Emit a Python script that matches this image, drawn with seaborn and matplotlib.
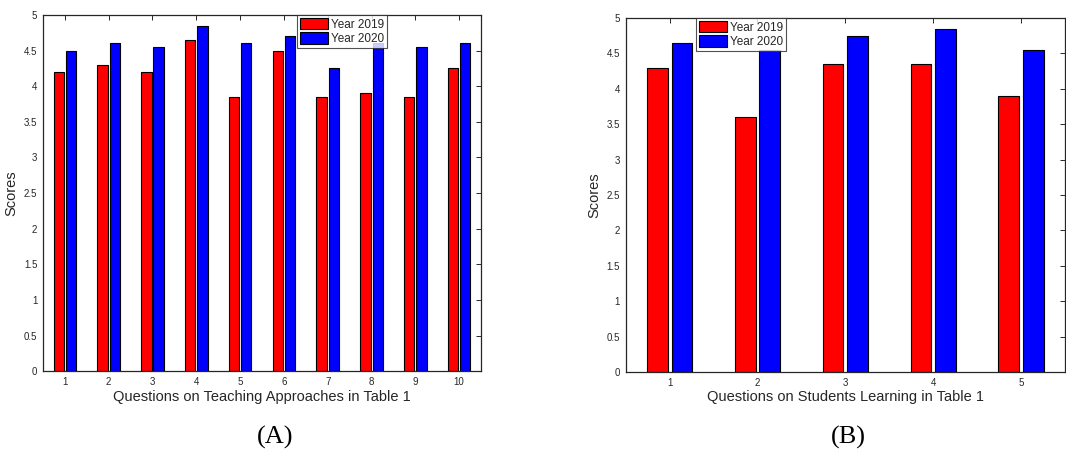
import matplotlib
matplotlib.use("Agg")
import matplotlib.pyplot as plt
import seaborn as sns
import pandas as pd

# Data
years = ["Year 2019", "Year 2020"]

teaching_questions = ["1", "2", "3", "4", "5", "6", "7", "8", "9", "10"]
teaching_2019 = [4.2, 4.3, 4.2, 4.65, 3.85, 4.5, 3.85, 3.9, 3.85, 4.25]
teaching_2020 = [4.5, 4.6, 4.55, 4.85, 4.6, 4.7, 4.25, 4.6, 4.55, 4.6]

learning_questions = ["1", "2", "3", "4", "5"]
learning_2019 = [4.3, 3.6, 4.35, 4.35, 3.9]
learning_2020 = [4.65, 4.55, 4.75, 4.85, 4.55]

y_ticks = [0, 0.5, 1, 1.5, 2, 2.5, 3, 3.5, 4, 4.5, 5]
y_ticklabels = ["0", "0.5", "1", "1.5", "2", "2.5", "3", "3.5", "4", "4.5", "5"]

COLORS = {"Year 2019": "#ff0000", "Year 2020": "#0000ff"}
TEXT_COLOR = "#262626"


def long_table(questions, v2019, v2020):
    rows = []
    for q, a, b in zip(questions, v2019, v2020):
        rows.append({"question": q, "year": years[0], "score": a})
        rows.append({"question": q, "year": years[1], "score": b})
    return pd.DataFrame(rows)


def draw_panel(ax, df, questions, xlabel, legend_x):
    sns.barplot(data=df, x="question", y="score", hue="year", order=questions,
                hue_order=years, palette=COLORS, width=0.56, gap=0.16,
                edgecolor="black", linewidth=0.8, saturation=1, ax=ax,
                errorbar=None)
    ax.set_xlim(-0.5, len(questions) - 0.5)
    ax.set_ylim(0, 5)
    ax.set_yticks(y_ticks)
    ax.set_yticklabels(y_ticklabels)
    ax.set_xlabel(xlabel, fontsize=10.5, color=TEXT_COLOR, labelpad=2)
    ax.set_ylabel("Scores", fontsize=10.5, color=TEXT_COLOR, labelpad=4)
    ax.tick_params(direction="in", length=3.5, width=0.7, top=True, right=True,
                   labelsize=7, labelcolor=TEXT_COLOR, color="#262626", pad=4)
    for sp in ax.spines.values():
        sp.set_color("#262626")
        sp.set_linewidth(0.9)
    leg = ax.legend(loc="upper left", bbox_to_anchor=(legend_x, 1.0),
                    borderaxespad=0, fontsize=8.5, frameon=True, fancybox=False,
                    edgecolor="#262626", handlelength=2.4, handleheight=1.1,
                    handletextpad=0.2, borderpad=0.25, labelspacing=0.15)
    leg.get_frame().set_linewidth(0.8)
    for t in leg.get_texts():
        t.set_color(TEXT_COLOR)


sns.set_theme(style="white")
plt.rcParams["font.family"] = ["Liberation Sans", "DejaVu Sans"]

fig = plt.figure(figsize=(10.66, 4.51), dpi=100)
ax_a = fig.add_axes([0.0403, 0.177, 0.411, 0.790])
ax_b = fig.add_axes([0.587, 0.175, 0.412, 0.785])

draw_panel(ax_a, long_table(teaching_questions, teaching_2019, teaching_2020),
           teaching_questions, "Questions on Teaching Approaches in Table 1", 0.58)
draw_panel(ax_b, long_table(learning_questions, learning_2019, learning_2020),
           learning_questions, "Questions on Students Learning in Table 1", 0.16)

# panel captions
fig.text(0.2585, 0.016, "(A)", family="Liberation Serif", fontsize=19,
         ha="center", va="baseline", color="black")
fig.text(0.7955, 0.016, "(B)", family="Liberation Serif", fontsize=19,
         ha="center", va="baseline", color="black")

fig.savefig("out.png", dpi=100)
plt.close(fig)
